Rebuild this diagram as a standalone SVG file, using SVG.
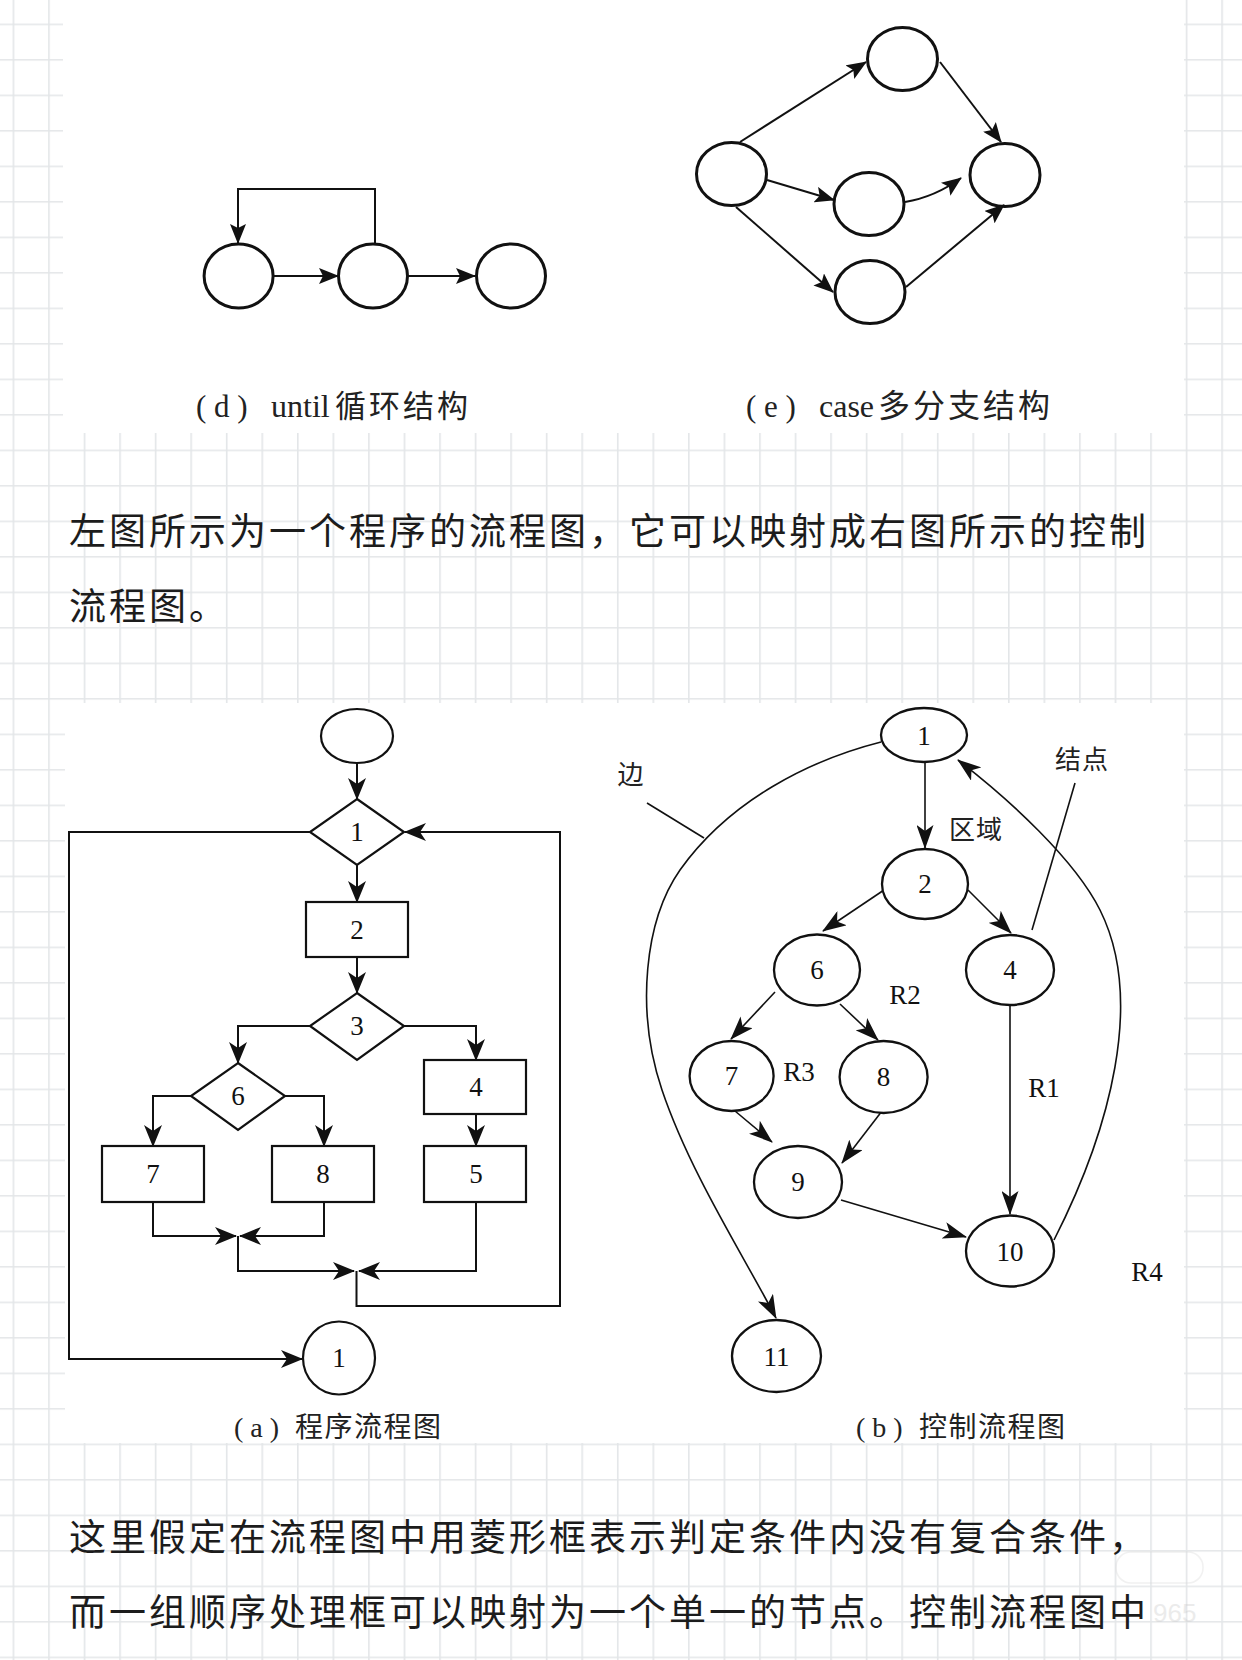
<svg xmlns="http://www.w3.org/2000/svg" width="1242" height="1660" viewBox="0 0 1242 1660">
<style>
.bg{fill:#ffffff}
.sh{fill:none;stroke:#111;stroke-width:3}
.sa{fill:#fff;stroke:#111;stroke-width:2.2}
.sb{fill:#fff;stroke:#111;stroke-width:2.3}
.ld{fill:none;stroke:#111;stroke-width:2}
.la{fill:none;stroke:#111;stroke-width:2}
.lb{fill:none;stroke:#111;stroke-width:1.6}
.num{font-family:'Liberation Serif','Noto Sans CJK SC',serif;font-size:27px;fill:#111;text-anchor:middle;dominant-baseline:central}
.lbl{font-family:'Liberation Serif','Noto Sans CJK SC',serif;font-size:27px;fill:#111;text-anchor:middle;dominant-baseline:central}
.cjl{font-family:'Noto Sans CJK SC',sans-serif;font-size:26px;fill:#222;text-anchor:middle;dominant-baseline:central;letter-spacing:1px}
.cap{font-family:'Liberation Serif','Noto Sans CJK SC',serif;fill:#222}
.cj{font-family:'Noto Sans CJK SC',sans-serif}
.para{font-family:'Noto Sans CJK SC',sans-serif;font-size:37px;fill:#1c1c1c;letter-spacing:3px}
</style>
<defs>
<pattern id="grid" patternUnits="userSpaceOnUse" x="12.6" y="23.6" width="35.55" height="35.5">
<path d="M0.8,0 V35.5 M0,0.8 H35.55" fill="none" stroke="#e3e6e8" stroke-width="1.6"/>
</pattern>
<marker id="ad" viewBox="0 0 20 16" refX="19" refY="8" markerWidth="20" markerHeight="16" markerUnits="userSpaceOnUse" orient="auto"><path d="M0,0 L20,8 L0,16 L4,8 Z" fill="#111"/></marker>
<marker id="aa" viewBox="0 0 22 18" refX="21" refY="9" markerWidth="22" markerHeight="18" markerUnits="userSpaceOnUse" orient="auto"><path d="M0,0 L22,9 L0,18 L6,9 Z" fill="#111"/></marker>
<marker id="ab" viewBox="0 0 24 17" refX="23" refY="8.5" markerWidth="24" markerHeight="17" markerUnits="userSpaceOnUse" orient="auto"><path d="M0,0 L24,8.5 L0,17 L6,8.5 Z" fill="#111"/></marker>
</defs>

<!-- page background with grid -->
<rect x="0" y="0" width="1242" height="1660" fill="#fff"/>
<rect x="0" y="0" width="1242" height="1660" fill="url(#grid)"/>
<rect class="bg" x="63" y="0" width="1121" height="433"/>
<rect class="bg" x="65" y="703" width="1119" height="740"/>

<!-- (d) until structure -->
<g id="d-nodes">
<g id="d1"><ellipse class="sh" cx="238.6" cy="276" rx="34.5" ry="32"/></g>
<g id="d2"><ellipse class="sh" cx="373" cy="276" rx="34.5" ry="32"/></g>
<g id="d3"><ellipse class="sh" cx="511" cy="276" rx="34.5" ry="32"/></g>
</g>
<g id="d-connectors">
<path class="ld" d="M273,276 H338" marker-end="url(#ad)"/>
<path class="ld" d="M408,276 H475" marker-end="url(#ad)"/>
<path class="ld" d="M375,244 V189 H238 V243" marker-end="url(#ad)"/>
</g>
<text class="cap" x="196" y="417" font-size="31">( d )<tspan x="271" font-size="32">until</tspan><tspan class="cj" x="335" letter-spacing="3">循环结构</tspan></text>

<!-- (e) case structure -->
<g id="e-nodes">
<g id="eL"><ellipse class="sh" cx="731.5" cy="174" rx="35" ry="31.5"/></g>
<g id="eT"><ellipse class="sh" cx="902.5" cy="59" rx="35" ry="31.5"/></g>
<g id="eM"><ellipse class="sh" cx="869" cy="204" rx="35" ry="31.5"/></g>
<g id="eB"><ellipse class="sh" cx="870" cy="292" rx="35" ry="31.5"/></g>
<g id="eR"><ellipse class="sh" cx="1005" cy="175" rx="35" ry="31.5"/></g>
</g>
<g id="e-connectors">
<path class="ld" d="M740,142 L866,62" marker-end="url(#ad)"/>
<path class="ld" d="M767,180 L834,200" marker-end="url(#ad)"/>
<path class="ld" d="M736,207 L833,292" marker-end="url(#ad)"/>
<path class="ld" d="M940,62 L1001,142" marker-end="url(#ad)"/>
<path class="ld" d="M905,202 Q935,197 961,178" marker-end="url(#ad)"/>
<path class="ld" d="M906,287 L1004,205" marker-end="url(#ad)"/>
</g>
<text class="cap" x="746" y="417" font-size="31">( e )<tspan x="819" font-size="32">case</tspan><tspan class="cj" x="878" font-size="32" letter-spacing="3">多分支结构</tspan></text>

<!-- paragraph 1 -->
<text class="para" x="69" y="545">左图所示为一个程序的流程图，它可以映射成右图所示的控制</text>
<text class="para" x="69" y="620">流程图。</text>

<!-- (a) program flowchart -->
<g id="a-connectors">
<path class="la" d="M357,763 V799" marker-end="url(#aa)"/>
<path class="la" d="M357,865 V902" marker-end="url(#aa)"/>
<path class="la" d="M357,957 V993" marker-end="url(#aa)"/>
<path class="la" d="M310,1026 H238 V1063" marker-end="url(#aa)"/>
<path class="la" d="M404,1026 H476 V1060" marker-end="url(#aa)"/>
<path class="la" d="M191,1096 H153 V1146" marker-end="url(#aa)"/>
<path class="la" d="M285,1096 H324 V1146" marker-end="url(#aa)"/>
<path class="la" d="M476,1114 V1146" marker-end="url(#aa)"/>
<path class="la" d="M153,1202 V1236 H236" marker-end="url(#aa)"/>
<path class="la" d="M324,1202 V1236 H240" marker-end="url(#aa)"/>
<path class="la" d="M238,1236 V1271 H354" marker-end="url(#aa)"/>
<path class="la" d="M476,1202 V1271 H359" marker-end="url(#aa)"/>
<path class="la" d="M356.5,1271 V1306 H560 V832 H405" marker-end="url(#aa)"/>
<path class="la" d="M310,832 H69 V1359 H302" marker-end="url(#aa)"/>
</g>
<g id="a-start"><ellipse class="sa" cx="357" cy="736" rx="36" ry="27"/></g>
<g id="a-1"><polygon class="sa" points="357,799 404,832 357,865 310,832"/><text class="num" x="357" y="832">1</text></g>
<g id="a-2"><rect class="sa" x="306" y="902" width="102" height="55"/><text class="num" x="357" y="929.5">2</text></g>
<g id="a-3"><polygon class="sa" points="357,993 404,1026 357,1060 310,1026"/><text class="num" x="357" y="1026">3</text></g>
<g id="a-6"><polygon class="sa" points="238,1063 285,1096 238,1130 191,1096"/><text class="num" x="238" y="1096">6</text></g>
<g id="a-4"><rect class="sa" x="424" y="1060" width="102" height="54"/><text class="num" x="476" y="1087">4</text></g>
<g id="a-7"><rect class="sa" x="102" y="1146" width="102" height="56"/><text class="num" x="153" y="1174">7</text></g>
<g id="a-8"><rect class="sa" x="272" y="1146" width="102" height="56"/><text class="num" x="323" y="1174">8</text></g>
<g id="a-5"><rect class="sa" x="424" y="1146" width="102" height="56"/><text class="num" x="476" y="1174">5</text></g>
<g id="a-end"><ellipse class="sa" cx="339" cy="1358" rx="36" ry="36.5"/><text class="num" x="339" y="1358">1</text></g>
<text class="cap" x="234" y="1437" font-size="28">( a )<tspan class="cj" x="295" letter-spacing="1.5">程序流程图</tspan></text>

<!-- (b) control flow graph -->
<g id="b-connectors">
<path class="lb" d="M925,762 V848" marker-end="url(#ab)"/>
<path class="lb" d="M884,890 L823,931" marker-end="url(#ab)"/>
<path class="lb" d="M968,890 L1011,933" marker-end="url(#ab)"/>
<path class="lb" d="M775,992 L731,1039" marker-end="url(#ab)"/>
<path class="lb" d="M840,1004 L878,1040" marker-end="url(#ab)"/>
<path class="lb" d="M735,1111 L772,1142" marker-end="url(#ab)"/>
<path class="lb" d="M882,1111 L842,1163" marker-end="url(#ab)"/>
<path class="lb" d="M1010,1005 V1214" marker-end="url(#ab)"/>
<path class="lb" d="M841,1200 L966,1237" marker-end="url(#ab)"/>
<path class="lb" d="M1054,1240 C1110,1130 1145,1000 1100,910 C1075,860 1010,800 958,760" marker-end="url(#ab)"/>
<path class="lb" d="M881,742 C810,760 730,800 680,870 C645,920 635,1010 662,1090 C690,1173 745,1258 776,1318" marker-end="url(#ab)"/>
<path class="lb" d="M647,803 L704,838"/>
<path class="lb" d="M1075,783 L1032,930"/>
</g>
<g id="b-1"><ellipse class="sb" cx="924" cy="735" rx="43" ry="27"/><text class="num" x="924" y="736">1</text></g>
<g id="b-2"><ellipse class="sb" cx="925" cy="884" rx="43" ry="35"/><text class="num" x="925" y="884">2</text></g>
<g id="b-6"><ellipse class="sb" cx="817" cy="970" rx="43" ry="35.5"/><text class="num" x="817" y="970">6</text></g>
<g id="b-4"><ellipse class="sb" cx="1010" cy="970" rx="44" ry="35"/><text class="num" x="1010" y="970">4</text></g>
<g id="b-7"><ellipse class="sb" cx="731.6" cy="1076" rx="42" ry="35"/><text class="num" x="731.6" y="1076">7</text></g>
<g id="b-8"><ellipse class="sb" cx="883.6" cy="1077" rx="44" ry="36"/><text class="num" x="883.6" y="1077">8</text></g>
<g id="b-9"><ellipse class="sb" cx="798" cy="1182" rx="44" ry="36"/><text class="num" x="798" y="1182">9</text></g>
<g id="b-10"><ellipse class="sb" cx="1010" cy="1251" rx="44" ry="35.5"/><text class="num" x="1010" y="1252">10</text></g>
<g id="b-11"><ellipse class="sb" cx="776.5" cy="1356" rx="44.5" ry="36"/><text class="num" x="776.5" y="1357">11</text></g>
<g id="b-labels">
<text class="cjl" x="631" y="772">边</text>
<text class="cjl" x="976" y="827">区域</text>
<text class="cjl" x="1082" y="757">结点</text>
<text class="lbl" x="905" y="995">R2</text>
<text class="lbl" x="799" y="1072">R3</text>
<text class="lbl" x="1044" y="1088">R1</text>
<text class="lbl" x="1147" y="1272">R4</text>
</g>
<text class="cap" x="856" y="1437" font-size="28">( b )<tspan class="cj" x="919" letter-spacing="1.5">控制流程图</tspan></text>

<!-- paragraph 2 -->
<text class="para" x="69" y="1551">这里假定在流程图中用菱形框表示判定条件内没有复合条件，</text>
<text class="para" x="69" y="1626">而一组顺序处理框可以映射为一个单一的节点。控制流程图中</text>

<!-- faint watermark -->
<g id="watermark" opacity="0.35">
<rect x="1116" y="1552" width="87" height="31" rx="15" fill="none" stroke="#d8d8d8" stroke-width="1.5"/>
<text x="1153" y="1622" font-family="'Liberation Sans',sans-serif" font-size="26" fill="#c8c8c8">965</text>
</g>
</svg>
